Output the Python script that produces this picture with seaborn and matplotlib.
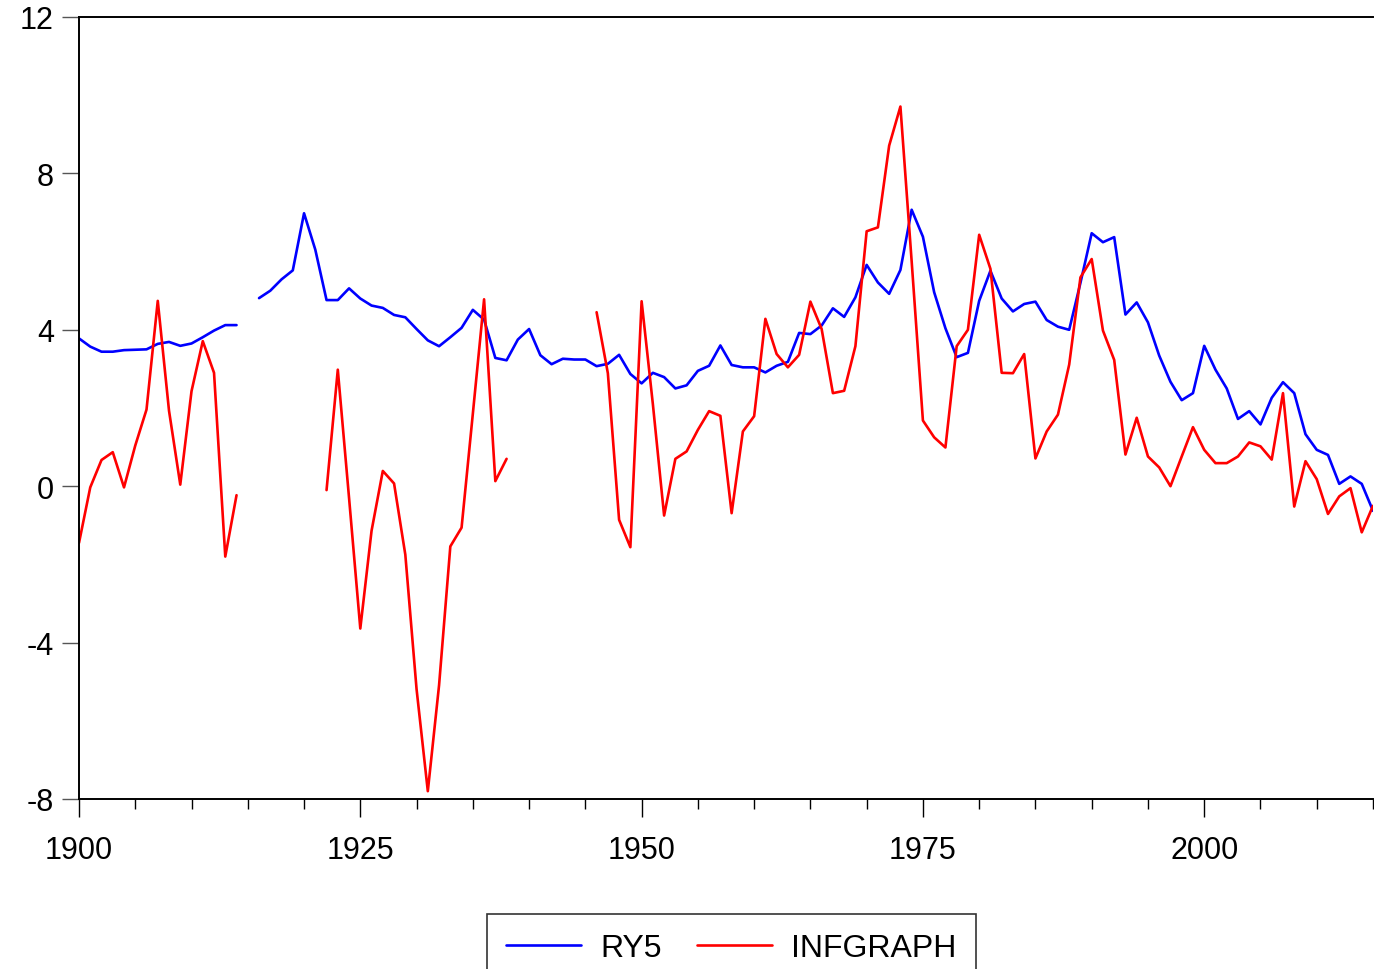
import numpy as np
import pandas as pd
import matplotlib
matplotlib.use('Agg')
import matplotlib.pyplot as plt
import seaborn as sns

# Values (NaN = gap in the series)
years = list(range(1900, 2016))

ry5 = [3.78, 3.57, 3.44, 3.44, 3.48, 3.49, 3.50, 3.64, 3.69, 3.59,
       3.65, 3.81, 3.98, 4.12, 4.12, np.nan, 4.81, 5.00, 5.29, 5.52,
       6.98, 6.05, 4.76, 4.76, 5.06, 4.80, 4.62, 4.56, 4.38, 4.32,
       4.02, 3.73, 3.58, 3.81, 4.05, 4.51, 4.26, 3.28, 3.22, 3.75,
       4.02, 3.35, 3.12, 3.26, 3.24, 3.24, 3.07, 3.13, 3.36, 2.87,
       2.63, 2.90, 2.79, 2.50, 2.58, 2.95, 3.08, 3.60, 3.10, 3.04,
       3.04, 2.91, 3.08, 3.18, 3.92, 3.89, 4.11, 4.55, 4.33, 4.83,
       5.66, 5.21, 4.92, 5.53, 7.07, 6.38, 4.96, 4.04, 3.30, 3.41,
       4.74, 5.51, 4.80, 4.47, 4.66, 4.72, 4.25, 4.08, 4.00, 5.20,
       6.47, 6.24, 6.37, 4.39, 4.70, 4.19, 3.34, 2.67, 2.20, 2.38,
       3.59, 2.98, 2.50, 1.72, 1.92, 1.58, 2.26, 2.66, 2.38, 1.33,
       0.93, 0.80, 0.06, 0.25, 0.06, -0.63]

infgraph = [-1.45, -0.03, 0.67, 0.87, -0.03, 1.04, 1.96, 4.74, 1.93, 0.04,
            2.43, 3.71, 2.90, -1.80, -0.23, np.nan, np.nan, np.nan, np.nan, np.nan,
            np.nan, np.nan, -0.10, 2.98, -0.30, -3.64, -1.14, 0.39, 0.07, -1.75,
            -5.19, -7.80, -5.09, -1.54, -1.06, 1.85, 4.78, 0.13, 0.70, np.nan,
            np.nan, np.nan, np.nan, np.nan, np.nan, np.nan, 4.45, 2.89, -0.86, -1.56,
            4.73, 2.10, -0.75, 0.70, 0.89, 1.44, 1.92, 1.80, -0.69, 1.40,
            1.79, 4.28, 3.38, 3.04, 3.36, 4.72, 4.02, 2.38, 2.44, 3.58,
            6.52, 6.62, 8.71, 9.71, 5.75, 1.68, 1.25, 0.99, 3.58, 4.00,
            6.43, 5.56, 2.90, 2.89, 3.38, 0.71, 1.40, 1.83, 3.11, 5.34,
            5.81, 3.98, 3.23, 0.81, 1.75, 0.76, 0.48, 0.00, 0.76, 1.51,
            0.93, 0.59, 0.59, 0.76, 1.12, 1.02, 0.68, 2.38, -0.52, 0.64,
            0.18, -0.71, -0.26, -0.05, -1.18, -0.50]

series_names = ['RY5', 'INFGRAPH']
series_colors = {'RY5': '#0000ff', 'INFGRAPH': '#ff0000'}

# Long format, with a segment id so gaps stay as gaps
frames = []
for name, vals in zip(series_names, [ry5, infgraph]):
    d = pd.DataFrame({'year': years, 'value': vals, 'series': name})
    d['segment'] = d['value'].isna().cumsum()
    frames.append(d.dropna())
df = pd.concat(frames, ignore_index=True)

sns.set_style('ticks')
plt.rcParams['font.family'] = ['Liberation Sans', 'DejaVu Sans']
plt.rcParams['text.color'] = 'black'
plt.rcParams['xtick.labelcolor'] = 'black'
plt.rcParams['ytick.labelcolor'] = 'black'

fig = plt.figure(figsize=(13.74, 9.70), dpi=100)
ax = fig.add_axes([79 / 1374, 1 - 800 / 970, (1373 - 79) / 1374, (800 - 18) / 970])

sns.lineplot(data=df, x='year', y='value', hue='series', units='segment',
             estimator=None, palette=series_colors, hue_order=series_names,
             linewidth=1.9, ax=ax, legend=False)

ax.set_xlim(1900, 2015)
ax.set_ylim(-8, 12)
ax.set_xlabel('')
ax.set_ylabel('')

ax.set_yticks([-8, -4, 0, 4, 8, 12])
ax.set_yticklabels(['-8', '-4', '0', '4', '8', '12'])
ax.set_xticks([1900, 1925, 1950, 1975, 2000])
ax.set_xticks(list(range(1905, 2016, 5)), minor=True)

ax.tick_params(axis='y', direction='out', length=12, width=1, pad=6,
               labelsize=22, color='#555555', labelcolor='black')
ax.tick_params(axis='x', which='major', direction='out', length=13, width=1,
               pad=13, labelsize=22, color='black', labelcolor='black')
ax.tick_params(axis='x', which='minor', direction='out', length=7, width=1,
               color='black')

for side in ['left', 'bottom', 'top']:
    ax.spines[side].set_visible(True)
    ax.spines[side].set_linewidth(1.4)
    ax.spines[side].set_color('black')
ax.spines['right'].set_visible(False)

handles = [plt.Line2D([], [], color=series_colors[n], linewidth=1.9) for n in series_names]
leg = fig.legend(handles, series_names, loc='upper center',
                 bbox_to_anchor=(731.5 / 1374, 1 - 915 / 970), ncol=2,
                 prop={'size': 23}, frameon=True, fancybox=False, edgecolor='black',
                 handlelength=2.35, handletextpad=0.6, columnspacing=1.1,
                 borderpad=0.6, borderaxespad=0)
leg.get_frame().set_linewidth(1.2)
for t in leg.get_texts():
    t.set_color('black')

fig.savefig('out.png', dpi=100, facecolor='white')
